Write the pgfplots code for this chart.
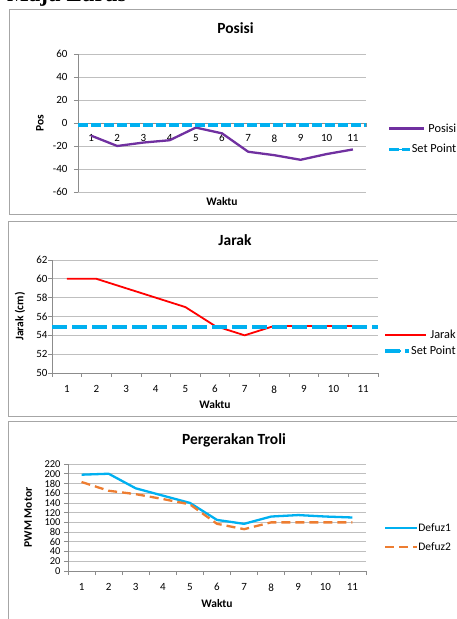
\documentclass[border=0pt]{standalone}
\usepackage{pgfplots}
\pgfplotsset{compat=1.18}
\usepackage{fontspec}
\setmainfont{Carlito}
\newfontfamily\serifb{Liberation Serif}
\definecolor{cpurple}{HTML}{7030A0}
\definecolor{ccyan}{HTML}{00B0F0}
\definecolor{cred}{HTML}{FF0000}
\definecolor{corange}{HTML}{ED7D31}
\definecolor{cgrid}{HTML}{BFBFBF}
\definecolor{caxis}{HTML}{8C8C8C}
\definecolor{cframe}{HTML}{A6A6A6}
\pgfplotsset{
  excel/.style={
    scale only axis, anchor=south west,
    xmin=0.5, xmax=11.5, xtick={1,...,11},
    minor xtick={0.5,1.5,...,11.5},
    ymajorgrids, grid style={cgrid, line width=0.7pt},
    axis line style={caxis, line width=0.7pt},
    tick align=outside, major tick length=4pt, minor tick length=4pt,
    major x tick style={draw=none},
    minor x tick style={caxis, line width=0.7pt},
    ytick style={caxis, line width=0.7pt},
    tick label style={font=\fontsize{11}{13}\selectfont},
    label style={font=\bfseries\fontsize{11.5}{13}\selectfont},
    /pgf/number format/assume math mode=true,
    legend style={draw=none, fill=none, font=\fontsize{11.5}{13}\selectfont, inner sep=0pt, column sep=0pt, nodes={inner xsep=0pt, inner ysep=1.5pt}},
    legend cell align=left,
    legend image code/.code={\draw[##1] (0pt,0pt) -- (24pt,0pt);},
    axis y line*=left,
  }
}
\begin{document}
\begin{tikzpicture}[x=1pt,y=1pt]
\path[use as bounding box, clip] (0,0) rectangle (457,619);
\coordinate (A1) at (78,427);
\coordinate (A2) at (52,246);
\coordinate (A3) at (68,48);
\node[anchor=base west, inner sep=0pt, font=\serifb\bfseries\fontsize{23}{25}\selectfont] at (7,617) {Maju Lurus};
\draw[cframe, line width=1pt] (9.5,609) rectangle (470,404);
\draw[cframe, line width=1pt] (8.5,397.5) rectangle (470,202.5);
\draw[cframe, line width=1pt] (8.5,197.5) rectangle (470,-10);
\node[font=\bfseries\fontsize{15.5}{17}\selectfont] at (235.5,591) {Posisi};
\node[font=\bfseries\fontsize{15.5}{17}\selectfont] at (235,379) {Jarak};
\node[font=\bfseries\fontsize{15.5}{17}\selectfont] at (234,179) {Pergerakan Troli};

% Chart 1: Posisi
\begin{axis}[excel, at={(A1)}, width=288pt, height=138pt,
  ymin=-60, ymax=60, ytick={-60,-40,...,60},
  axis x line*=middle,
  xticklabel style={yshift=-4pt},
  yticklabel style={xshift=-3pt},
  xlabel={Waktu}, ylabel={Pos},
  xlabel style={at={(axis description cs:0.5,-0.0725)}, anchor=center},
  ylabel style={at={(axis description cs:-0.132,0.5)}, anchor=center},
  legend cell align=right,
  legend style={at={(axis description cs:1.073,0.384)}, anchor=west, row sep=8pt, font=\fontsize{12.3}{14}\selectfont},
]
\addplot[cpurple, line width=2.3pt,
  legend image code/.code={\path (0pt,0pt) -- (21pt,0pt); \draw[cpurple, line width=2.3pt, overlay] (11pt,0pt) -- (35pt,0pt);}] coordinates {
 (1,-11) (2,-20) (3,-17) (4,-15) (5,-4) (6,-9) (7,-25) (8,-28) (9,-32) (10,-27) (11,-23)};
\addlegendentry{Posisi}
\addplot[ccyan, line width=3.6pt, dash pattern=on 10pt off 3pt,
  legend image code/.code={\path (0pt,0pt) -- (21pt,0pt); \draw[ccyan, line width=1.6pt, dash pattern=on 6pt off 4pt] (0pt,0pt) -- (17pt,0pt);}]
  coordinates {(0.5,-2) (11.5,-2)};
\addlegendentry{Set Point}
\end{axis}

% Chart 2: Jarak
\begin{axis}[excel, at={(A2)}, width=326pt, height=113pt,
  ymin=50, ymax=62, ytick={50,52,...,62},
  axis x line*=bottom,
  xticklabel style={yshift=-5pt},
  yticklabel style={xshift=3pt},
  xlabel={Waktu}, ylabel={Jarak (cm)},
  xlabel style={at={(axis description cs:0.5,-0.283)}, anchor=center},
  ylabel style={at={(axis description cs:-0.098,0.5)}, anchor=center},
  legend cell align=right,
  legend style={at={(axis description cs:1.0153,0.265)}, anchor=west, row sep=3pt, font=\fontsize{12.3}{14}\selectfont},
]
\addplot[cred, line width=1.8pt,
  legend image code/.code={\path (0pt,0pt) -- (24pt,0pt); \draw[cred, line width=1.8pt, overlay] (20pt,0pt) -- (41pt,0pt);}] coordinates {
 (1,60) (2,60) (3,59) (4,58) (5,57) (6,55) (7,54) (8,55) (9,55) (10,55) (11,55)};
\addlegendentry{Jarak}
\addplot[ccyan, line width=4pt, dash pattern=on 15pt off 5pt,
  legend image code/.code={\path (0pt,0pt) -- (24pt,0pt); \draw[ccyan, line width=1.6pt, dash pattern=on 6pt off 4pt] (0pt,0pt) -- (20pt,0pt);}]
  coordinates {(0.5,54.9) (11.5,54.9)};
\addlegendentry{Set Point}
\end{axis}

% Chart 3: Pergerakan Troli
\begin{axis}[excel, at={(A3)}, width=298pt, height=107pt,
  ymin=0, ymax=220, ytick={0,20,...,220},
  axis x line*=bottom,
  xticklabel style={yshift=-5pt},
  yticklabel style={font=\fontsize{10.5}{12}\selectfont},
  xlabel={Waktu}, ylabel={PWM Motor},
  xlabel style={at={(axis description cs:0.5,-0.308)}, anchor=center},
  ylabel style={at={(axis description cs:-0.134,0.5)}, anchor=center},
  legend style={at={(axis description cs:1.06,0.313)}, anchor=west, row sep=7pt},
]
\addplot[ccyan, line width=2.3pt,
  legend image code/.code={\path (0pt,0pt) -- (32pt,0pt); \draw[ccyan, line width=2.3pt] (0pt,0pt) -- (29pt,0pt);}] coordinates {
 (1,198) (2,200) (3,170) (4,155) (5,140) (6,105) (7,97) (8,112) (9,115) (10,112) (11,110)};
\addlegendentry{Defuz1}
\addplot[corange, line width=2.3pt, dash pattern=on 9pt off 5pt,
  legend image code/.code={\path (0pt,0pt) -- (32pt,0pt); \draw[corange, line width=2.3pt, dash pattern=on 9pt off 5pt] (0pt,0pt) -- (29pt,0pt);}] coordinates {
 (1,183) (2,165) (3,158) (4,148) (5,137) (6,97) (7,86) (8,100) (9,100) (10,100) (11,100)};
\addlegendentry{Defuz2}
\end{axis}
\end{tikzpicture}
\end{document}
